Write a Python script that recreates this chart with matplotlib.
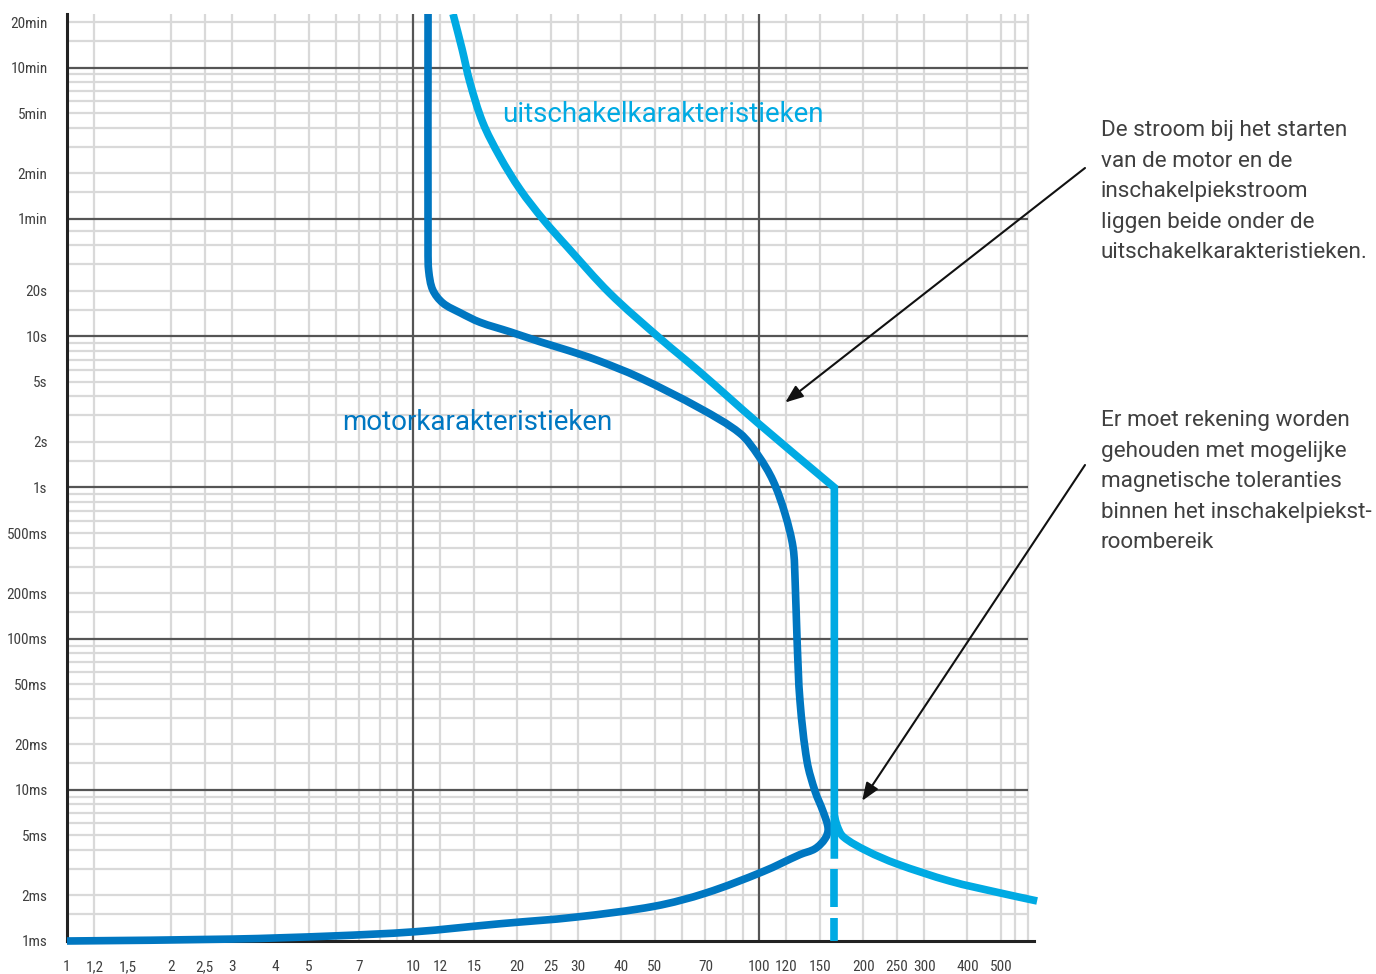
import matplotlib
matplotlib.use("Agg")
import numpy as np
import matplotlib.pyplot as plt
import matplotlib.font_manager as fm
from matplotlib.path import Path
from matplotlib.patches import PathPatch

# stroom (A) / tijd (s) waarden
motor_a = [11.05, 11.05, 11.1, 11.4, 12.2, 13.7, 15.6, 19.1, 23.3, 27.9, 34, 45,
           67.5, 88.1, 99.4, 109.7, 118.8, 125.4, 127.1, 128.8, 131.3, 137.6,
           145.2, 153.1, 158.3, 155.2, 145.2, 131.3, 102.7, 70.3, 50, 29.6, 17.8,
           10.06, 5.87, 3.02, 1]
motor_t = [1356, 37, 27, 20.3, 16.6, 14.3, 12.4, 10.7, 9.2, 8.1, 6.96, 5.35,
           3.34, 2.28, 1.63, 1.11, 0.672, 0.40, 0.241, 0.0966, 0.0386, 0.0154,
           0.00976, 0.00719, 0.00554, 0.00476, 0.00408, 0.00373, 0.00288,
           0.00208, 0.0017, 0.00144, 0.0013, 0.00115, 0.00108, 0.00103, 0.001]

uit_a = [13.05, 13.86, 14.6, 15.9, 17.8, 20.4, 23.8, 27.9, 37, 51.7, 67.5, 99.4, 165]
uit_t = [1356, 794, 479, 260, 155, 93.5, 59.1, 39.1, 19.3, 9.7, 5.8, 2.66, 1.0]
uit_eind_t = 0.0035

piek_a = [165, 168, 175, 205, 250, 356, 497, 636]
piek_t = [0.0068, 0.0058, 0.0049, 0.00394, 0.00324, 0.00249, 0.00208, 0.00184]

streep_t = [(0.0030, 0.00168), (0.00142, 0.001)]

x_ticks = [1, 1.2, 1.5, 2, 2.5, 3, 4, 5, 7, 10, 12, 15, 20, 25, 30, 40, 50, 70,
           100, 120, 150, 200, 250, 300, 400, 500]
x_labels = ["1", "1,2", "1,5", "2", "2,5", "3", "4", "5", "7", "10", "12", "15", "20",
            "25", "30", "40", "50", "70", "100", "120", "150", "200", "250", "300",
            "400", "500"]
y_ticks = [0.001, 0.002, 0.005, 0.01, 0.02, 0.05, 0.1, 0.2, 0.5, 1, 2, 5, 10, 20,
           60, 120, 300, 600, 1200]
y_labels = ["1ms", "2ms", "5ms", "10ms", "20ms", "50ms", "100ms", "200ms", "500ms",
            "1s", "2s", "5s", "10s", "20s", "1min", "2min", "5min", "10min", "20min"]

x_grid = [1.2, 2, 2.5, 3, 4, 5, 6, 7, 8, 9, 12, 15, 20, 25, 30, 40, 50, 60, 70, 80, 90,
          120, 150, 200, 250, 300, 400, 500, 550, 600]
x_grid_major = [10, 100]
y_grid = [0.0015, 0.002, 0.003, 0.004, 0.005, 0.006, 0.007, 0.008, 0.009,
          0.015, 0.02, 0.03, 0.04, 0.05, 0.06, 0.07, 0.08, 0.09,
          0.15, 0.2, 0.3, 0.4, 0.5, 0.6, 0.7, 0.8, 0.9,
          1.5, 2, 3, 4, 5, 6, 7, 8, 9,
          15, 20, 30, 40, 50,
          90, 120, 180, 240, 300, 360, 420, 480, 540,
          900, 1200]
y_grid_major = [0.01, 0.1, 1, 10, 60, 600]

DONKER = "#0077c1"
LICHT = "#00aae3"
TEKST = "#404040"

names = {f.name for f in fm.fontManager.ttflist}
smal = "DejaVu Sans"
for kandidaat in ["Liberation Sans Narrow", "Roboto Condensed", "Open Sans Condensed"]:
    if kandidaat in names:
        smal = kandidaat
        break


def glad(a, t):
    # vloeiende bezier door de punten, in log-ruimte (pixelverhouding per decade)
    p = np.column_stack([np.log10(a) * 346, np.log10(t) * 151])
    n = len(p)
    rich = []
    for i in range(n):
        d = p[min(i + 1, n - 1)] - p[max(i - 1, 0)]
        rich.append(d / np.hypot(*d))
    verts = [p[0]]
    codes = [Path.MOVETO]
    for i in range(n - 1):
        l = np.hypot(*(p[i + 1] - p[i])) / 3
        verts += [p[i] + rich[i] * l, p[i + 1] - rich[i + 1] * l, p[i + 1]]
        codes += [Path.CURVE4] * 3
    v = np.array(verts)
    return 10 ** (v / [346, 151]), codes


fig = plt.figure(figsize=(13.76, 9.74), dpi=100)
ax = fig.add_axes([67 / 1376, 33 / 974, 967 / 1376, 927 / 974])
ax.set_xscale("log")
ax.set_yscale("log")
ax.set_xlim(1, 623)
ax.set_ylim(0.001, 1356)

# raster
ax.vlines(x_grid, 0.001, 1356, color="#d9d9d9", lw=1.6, zorder=1)
ax.hlines(y_grid, 1, 600, color="#d9d9d9", lw=1.6, zorder=1)
ax.vlines(x_grid_major, 0.001, 1356, color="#555555", lw=1.6, zorder=2)
ax.hlines(y_grid_major, 1, 600, color="#555555", lw=1.6, zorder=2)

# uitschakelkarakteristiek: kromme + verticale lijn
v, c = glad(uit_a, uit_t)
v = np.vstack([v, [uit_a[-1], uit_eind_t]])
c = c + [Path.LINETO]
ax.add_patch(PathPatch(Path(v, c), transform=ax.transData, fill=False, ec=LICHT,
                       lw=5.5, joinstyle="miter", capstyle="butt", zorder=5))
v, c = glad(piek_a, piek_t)
ax.add_patch(PathPatch(Path(v, c), transform=ax.transData, fill=False, ec=LICHT,
                       lw=5.5, capstyle="butt", zorder=5, clip_on=False))
for t0, t1 in streep_t:
    ax.plot([uit_a[-1], uit_a[-1]], [t0, t1], color=LICHT, lw=5.5,
            solid_capstyle="butt", zorder=5, clip_on=False)

# motorkarakteristiek
v, c = glad(motor_a, motor_t)
ax.add_patch(PathPatch(Path(v, c), transform=ax.transData, fill=False, ec=DONKER,
                       lw=5.5, joinstyle="round", capstyle="butt", zorder=4,
                       clip_on=False))

for s in ["top", "right"]:
    ax.spines[s].set_visible(False)
ax.spines["left"].set_linewidth(2.2)
ax.spines["bottom"].set_linewidth(2.2)
ax.spines["left"].set_color("#222222")
ax.spines["bottom"].set_color("#222222")

ax.set_xticks(x_ticks)
ax.set_xticklabels(x_labels)
ax.set_yticks(y_ticks)
ax.set_yticklabels(y_labels)
ax.minorticks_off()
ax.tick_params(axis="x", length=0, pad=14, labelsize=11, labelcolor=TEKST)
ax.tick_params(axis="y", length=0, pad=14, labelsize=11, labelcolor=TEKST)
for lab in ax.get_xticklabels() + ax.get_yticklabels():
    lab.set_family(smal)

# labels in de grafiek
fig.text(502 / 1376, 1 - 114 / 974, "uitschakelkarakteristieken",
         color=LICHT, fontsize=20, family="Roboto", va="center")
fig.text(342 / 1376, 1 - 422 / 974, "motorkarakteristieken",
         color=DONKER, fontsize=20, family="Roboto", va="center")

tekst1 = ("De stroom bij het starten\nvan de motor en de\ninschakelpiekstroom\n"
          "liggen beide onder de\nuitschakelkarakteristieken.")
tekst2 = ("Er moet rekening worden\ngehouden met mogelijke\nmagnetische toleranties\n"
          "binnen het inschakelpiekst-\nroombereik")
fig.text(1101 / 1376, 1 - 120 / 974, tekst1, fontsize=16.2, family="Roboto",
         color=TEKST, va="top", linespacing=1.6)
fig.text(1101 / 1376, 1 - 410 / 974, tekst2, fontsize=16.2, family="Roboto",
         color=TEKST, va="top", linespacing=1.6)

pijl = dict(arrowstyle="-|>,head_length=0.9,head_width=0.35", color="#111111",
            lw=1.5, shrinkA=0, shrinkB=0, mutation_scale=12)
ax.annotate("", xy=(119, 3.65), xycoords="data", xytext=(1085 / 1376, 1 - 168 / 974),
            textcoords="figure fraction", arrowprops=pijl, annotation_clip=False)
ax.annotate("", xy=(198.5, 0.00846), xycoords="data", xytext=(1085 / 1376, 1 - 465 / 974),
            textcoords="figure fraction", arrowprops=pijl, annotation_clip=False)

fig.savefig("out.png", dpi=100)
